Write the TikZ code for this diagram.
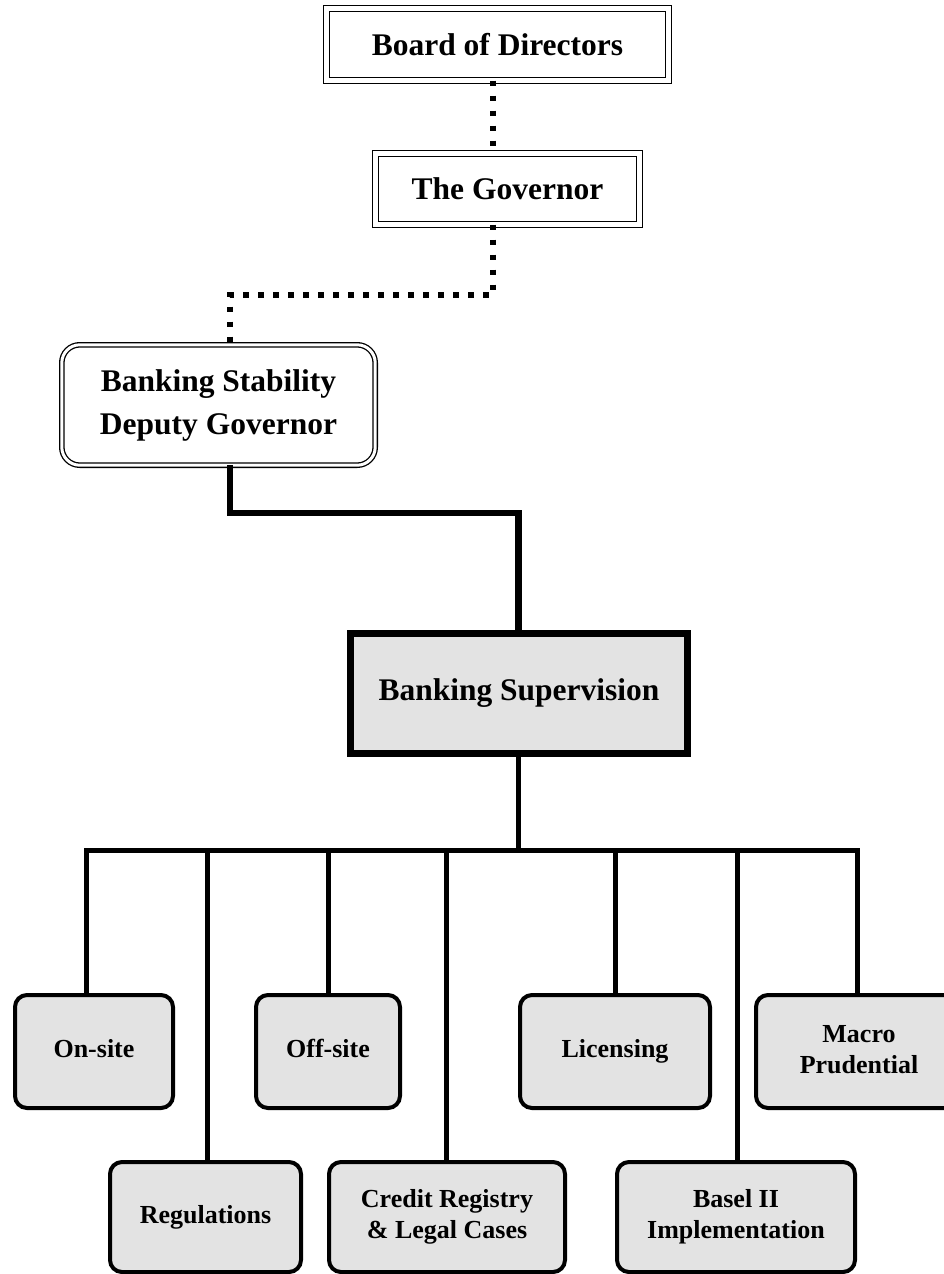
\documentclass[tikz,border=0pt]{standalone}
\usepackage{fontspec}
\setmainfont{Liberation Serif}
\begin{document}
\begin{tikzpicture}[x=1pt,y=1pt,
  every node/.style={inner sep=0pt, outer sep=0pt, align=center},
  bigtext/.style={font=\bfseries\fontsize{31.5}{43}\selectfont},
  smalltext/.style={font=\bfseries\fontsize{26}{31}\selectfont},
  framebox/.style={bigtext, draw, line width=1.4pt, double=white, double distance=4.2pt},
  roundframe/.style={bigtext, draw, line width=1.3pt, double=white, double distance=3pt, rounded corners=18pt},
  mainunit/.style={bigtext, draw, line width=7pt, fill=gray!22, minimum width=337pt, minimum height=120pt},
  unitbox/.style={smalltext, draw, line width=4pt, fill=gray!22, rounded corners=12pt},
  dotline/.style={line width=5.5pt, dash pattern=on 5.5pt off 9.5pt},
  thickline/.style={line width=6.5pt},
  conn/.style={line width=5pt}
]
\clip (0,0) rectangle (944,-1274);

% upper chain of command
\node[framebox, minimum width=342pt, minimum height=72pt] (board) at (497.5,-44.5) {Board of Directors};
\node[framebox, minimum width=264pt, minimum height=71pt] (gov) at (507.5,-189) {The Governor};
\node[roundframe, minimum width=313.4pt, minimum height=120.4pt] (dep) at (218.5,-405)
  {Banking Stability\\Deputy Governor};
\node[mainunit] (sup) at (519,-693.5) {Banking Supervision};

% departments (struts keep the baselines level from box to box)
\node[unitbox, minimum width=158pt, minimum height=113pt] (onsite)  at (94,-1051.5)  {\strut On-site};
\node[unitbox, minimum width=144pt, minimum height=113pt] (offsite) at (328,-1051.5) {\strut Off-site};
\node[unitbox, minimum width=190pt, minimum height=113pt] (lic)     at (615,-1051.5) {\strut Licensing};
\node[unitbox, minimum width=206pt, minimum height=113pt] (macro)   at (859,-1051.5) {\strut Macro\\\strut Prudential};
\node[unitbox, minimum width=191pt, minimum height=110pt] (reg)     at (205.5,-1217) {\strut Regulations};
\node[unitbox, minimum width=236pt, minimum height=110pt] (credit)  at (447,-1217)   {\strut Credit Registry\\\strut \& Legal Cases};
\node[unitbox, minimum width=238pt, minimum height=110pt] (basel)   at (736,-1217)   {\strut Basel II\\\strut Implementation};

% turning points of the connectors
\coordinate (gturn) at (230,-295);
\coordinate (dturn) at (518.5,-513);
\coordinate (bar) at (518.5,-850.5);

% dotted reporting lines
\draw[dotline] ([xshift=-4.5pt]board.south) -- ([xshift=-14.5pt]gov.north);
\draw[dotline] ([xshift=-14.5pt]gov.south) |- (gturn) -- (gturn |- dep.north);

% solid line to supervision
\draw[thickline] (gturn |- dep.south) |- (dturn) -- (dturn |- sup.north);
\draw[conn] (bar |- sup.south) -- (bar);

% branches to the departments
\draw[conn] ([xshift=-8pt]onsite.north) |- (bar);
\draw[conn] ([xshift=1.5pt]reg.north) |- (bar);
\draw[conn] (offsite.north) |- (bar);
\draw[conn] ([xshift=-1pt]credit.north) |- (bar);
\draw[conn] (lic.north) |- (bar);
\draw[conn] ([xshift=1pt]basel.north) |- (bar);
\draw[conn] ([xshift=-2pt]macro.north) |- (bar);
\end{tikzpicture}
\end{document}
